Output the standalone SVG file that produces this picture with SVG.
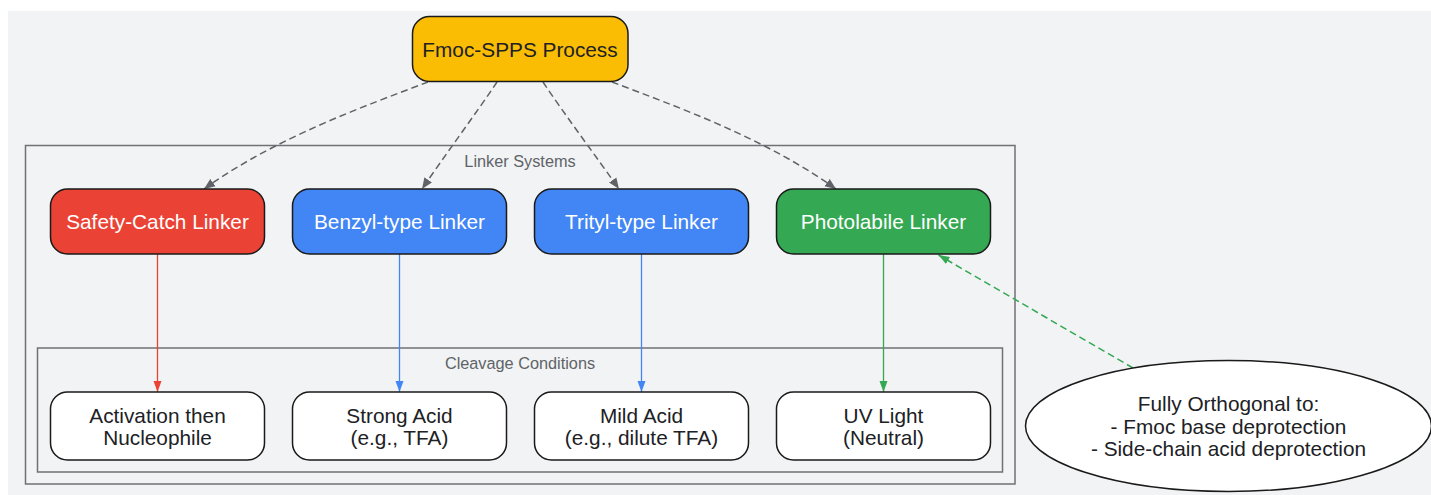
<svg xmlns="http://www.w3.org/2000/svg" width="1431" height="495" viewBox="0 0 1431 495">
<defs>
<style>
.bg{fill:#f1f3f4}
.cluster{fill:none;stroke:#707176;stroke-width:1.5}
.clabel{font-family:"Liberation Sans",Arial,sans-serif;font-size:16.3px;fill:#5f6368;text-anchor:middle}
.node{stroke:#1a1a1a;stroke-width:1.5}
.lbl{font-family:"Liberation Sans",Arial,sans-serif;font-size:20.8px;text-anchor:middle}
.dark{fill:#202124}
.light{fill:#ffffff}
.dash{fill:none;stroke:#5f6368;stroke-width:1.5;stroke-dasharray:7,4}
.solid{fill:none;stroke-width:1.3}
</style>
<marker id="aGray" markerWidth="12" markerHeight="10" viewBox="0 0 12 10" refX="11" refY="5" orient="auto" markerUnits="userSpaceOnUse"><path d="M0,0.5 L11,5 L0,9.5 Z" fill="#5f6368"/></marker>
<marker id="aRed" markerWidth="12" markerHeight="10" viewBox="0 0 12 10" refX="11" refY="5" orient="auto" markerUnits="userSpaceOnUse"><path d="M0,1 L11,5 L0,9 Z" fill="#ea4335"/></marker>
<marker id="aBlue" markerWidth="12" markerHeight="10" viewBox="0 0 12 10" refX="11" refY="5" orient="auto" markerUnits="userSpaceOnUse"><path d="M0,1 L11,5 L0,9 Z" fill="#4285f4"/></marker>
<marker id="aGreen" markerWidth="12" markerHeight="10" viewBox="0 0 12 10" refX="11" refY="5" orient="auto" markerUnits="userSpaceOnUse"><path d="M0,1 L11,5 L0,9 Z" fill="#34a853"/></marker>
</defs>
<rect class="bg" x="8" y="11" width="1423" height="484"/>
<g id="cluster-linkers">
<rect class="cluster" x="25.5" y="145.5" width="989.5" height="338.5"/>
<text class="clabel" x="520" y="167">Linker Systems</text>
</g>
<g id="cluster-cleavage">
<rect class="cluster" x="37.5" y="348" width="965" height="124"/>
<text class="clabel" x="520" y="369">Cleavage Conditions</text>
</g>
<g id="connectors">
<path class="dash" d="M428,82 C365,106 275,138 204,189" marker-end="url(#aGray)"/>
<path class="dash" d="M497,82 C475,115 445,155 422,189" marker-end="url(#aGray)"/>
<path class="dash" d="M543,82 C565,115 595,155 619,189" marker-end="url(#aGray)"/>
<path class="dash" d="M612,82 C675,106 765,138 836,189" marker-end="url(#aGray)"/>
<path class="solid" stroke="#ea4335" d="M157.5,254 L157.5,392" marker-end="url(#aRed)"/>
<path class="solid" stroke="#4285f4" d="M399.5,254 L399.5,392" marker-end="url(#aBlue)"/>
<path class="solid" stroke="#4285f4" d="M641.5,254 L641.5,392" marker-end="url(#aBlue)"/>
<path class="solid" stroke="#34a853" d="M883.5,254 L883.5,392" marker-end="url(#aGreen)"/>
<path fill="none" stroke="#34a853" stroke-width="1.5" stroke-dasharray="7,4" d="M1133,368 L938.5,255" marker-end="url(#aGreen)"/>
</g>
<g id="fmoc">
<rect class="node" x="412.5" y="16.5" width="215.5" height="65" rx="17" fill="#fbbc04"/>
<text class="lbl dark" x="520" y="57">Fmoc-SPPS Process</text>
</g>
<g id="safety">
<rect class="node" x="50.5" y="189" width="214" height="65" rx="17" fill="#ea4335"/>
<text class="lbl light" x="157.5" y="229">Safety-Catch Linker</text>
</g>
<g id="benzyl">
<rect class="node" x="292.5" y="189" width="214" height="65" rx="17" fill="#4285f4"/>
<text class="lbl light" x="399.5" y="229">Benzyl-type Linker</text>
</g>
<g id="trityl">
<rect class="node" x="534.5" y="189" width="214" height="65" rx="17" fill="#4285f4"/>
<text class="lbl light" x="641.5" y="229">Trityl-type Linker</text>
</g>
<g id="photo">
<rect class="node" x="776.5" y="189" width="214" height="65" rx="17" fill="#34a853"/>
<text class="lbl light" x="883.5" y="229">Photolabile Linker</text>
</g>
<g id="activation">
<rect class="node" x="50.5" y="392" width="214" height="68" rx="17" fill="#ffffff"/>
<text class="lbl dark" x="157.5" y="422.5">Activation then</text>
<text class="lbl dark" x="157.5" y="445">Nucleophile</text>
</g>
<g id="strong">
<rect class="node" x="292.5" y="392" width="214" height="68" rx="17" fill="#ffffff"/>
<text class="lbl dark" x="399.5" y="422.5">Strong Acid</text>
<text class="lbl dark" x="399.5" y="445">(e.g., TFA)</text>
</g>
<g id="mild">
<rect class="node" x="534.5" y="392" width="214" height="68" rx="17" fill="#ffffff"/>
<text class="lbl dark" x="641.5" y="422.5">Mild Acid</text>
<text class="lbl dark" x="641.5" y="445">(e.g., dilute TFA)</text>
</g>
<g id="uv">
<rect class="node" x="776.5" y="392" width="214" height="68" rx="17" fill="#ffffff"/>
<text class="lbl dark" x="883.5" y="422.5">UV Light</text>
<text class="lbl dark" x="883.5" y="445">(Neutral)</text>
</g>
<g id="orthogonal">
<ellipse class="node" cx="1228.5" cy="426" rx="203" ry="65.5" fill="#ffffff"/>
<text class="lbl dark" x="1228.5" y="411">Fully Orthogonal to:</text>
<text class="lbl dark" x="1228.5" y="433.5">- Fmoc base deprotection</text>
<text class="lbl dark" x="1228.5" y="456">- Side-chain acid deprotection</text>
</g>
</svg>
